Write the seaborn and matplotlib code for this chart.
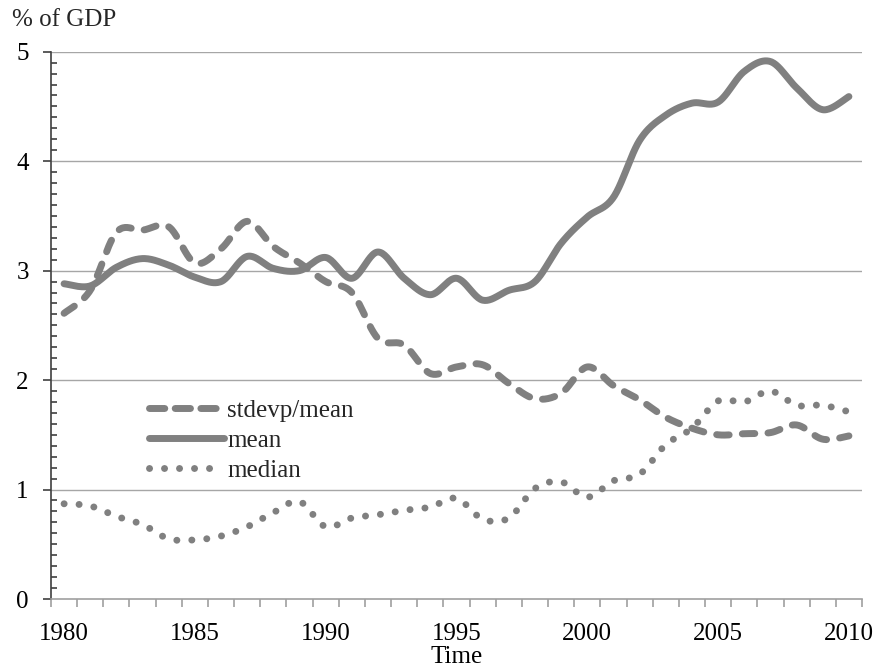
import numpy as np
import pandas as pd
import matplotlib
matplotlib.use("Agg")
import matplotlib.pyplot as plt
import seaborn as sns
from matplotlib.ticker import MultipleLocator, FixedLocator
from matplotlib.lines import Line2D

years = list(range(1980, 2011))
stdevp_mean = [2.61, 2.82, 3.35, 3.37, 3.40, 3.07, 3.20, 3.45, 3.22, 3.07,
               2.90, 2.80, 2.38, 2.32, 2.06, 2.12, 2.14, 1.97, 1.83, 1.88,
               2.12, 1.95, 1.82, 1.66, 1.56, 1.50, 1.51, 1.52, 1.59, 1.46, 1.49]
mean = [2.88, 2.86, 3.03, 3.11, 3.05, 2.94, 2.90, 3.13, 3.02, 3.00,
        3.12, 2.93, 3.17, 2.93, 2.78, 2.93, 2.73, 2.82, 2.90, 3.25,
        3.49, 3.67, 4.19, 4.42, 4.53, 4.54, 4.82, 4.91, 4.67, 4.47, 4.59]
median = [0.87, 0.85, 0.755, 0.68, 0.55, 0.54, 0.575, 0.66, 0.79, 0.89,
          0.66, 0.74, 0.77, 0.81, 0.84, 0.92, 0.73, 0.74, 1.01, 1.07,
          0.93, 1.08, 1.14, 1.41, 1.56, 1.81, 1.80, 1.90, 1.77, 1.77, 1.71]
series_names = ["stdevp/mean", "mean", "median"]
ytick_labels = ["0", "1", "2", "3", "4", "5"]
xtick_years = [1980, 1985, 1990, 1995, 2000, 2005, 2010]


def smooth(xs, ys, n=24):
    """Excel-style smoothed line (Catmull-Rom Bezier) for drawing."""
    P = np.column_stack([xs, ys]).astype(float)
    Pe = np.vstack([P[0], P, P[-1]])
    out = []
    for i in range(len(P) - 1):
        p0, p1, p2, p3 = Pe[i], Pe[i + 1], Pe[i + 2], Pe[i + 3]
        c1 = p1 + (p2 - p0) / 6.0
        c2 = p2 - (p3 - p1) / 6.0
        t = np.linspace(0, 1, n, endpoint=(i == len(P) - 2))[:, None]
        b = ((1 - t) ** 3) * p1 + 3 * ((1 - t) ** 2) * t * c1 + 3 * (1 - t) * t ** 2 * c2 + t ** 3 * p2
        out.append(b)
    B = np.vstack(out)
    return B[:, 0], B[:, 1]


sns.set_theme(style="white")
plt.rcParams["font.family"] = ["Liberation Serif", "DejaVu Serif"]

fig = plt.figure(figsize=(8.79, 6.71), dpi=100)
ax = fig.add_axes([51 / 879, 1 - 599 / 671, (862 - 51) / 879, (599 - 51.7) / 671])

gray = "#808080"
styles = {
    "stdevp/mean": dict(lw=5.0, dashes=(1.8, 1.9), hdashes=(2.2, 1.5)),
    "mean": dict(lw=5.0, dashes=None, hdashes=None),
    "median": dict(lw=5.0, dashes=(0.01, 2.15), hdashes=(0.01, 2.15)),
}
data = {"stdevp/mean": stdevp_mean, "mean": mean, "median": median}

handles = []
for name in series_names:
    sx, sy = smooth(years, data[name])
    df = pd.DataFrame({"Time": sx, "val": sy})
    sns.lineplot(data=df, x="Time", y="val", ax=ax, color=gray,
                 linewidth=styles[name]["lw"], estimator=None, sort=False)
    line = ax.get_lines()[-1]
    line.set_solid_capstyle("round")
    line.set_dash_capstyle("round")
    line.set_solid_joinstyle("round")
    if styles[name]["dashes"] is not None:
        line.set_dashes(styles[name]["dashes"])
    h = Line2D([], [], color=gray, lw=styles[name]["lw"],
               solid_capstyle="round", dash_capstyle="round")
    if styles[name]["hdashes"] is not None:
        h.set_dashes(styles[name]["hdashes"])
    handles.append(h)

ax.set_xlim(1979.5, 2010.5)
ax.set_ylim(0, 5)

# grid
for v in range(1, 6):
    ax.axhline(v, color="#A6A6A6", lw=1.0, zorder=0)

# spines
for s in ["top", "right"]:
    ax.spines[s].set_visible(False)
ax.spines["left"].set_color("#404040")
ax.spines["left"].set_linewidth(1.2)
ax.spines["bottom"].set_color("#A0A0A0")
ax.spines["bottom"].set_linewidth(1.2)

# y ticks
ax.yaxis.set_major_locator(FixedLocator(range(6)))
ax.set_yticklabels(ytick_labels)
ax.yaxis.set_minor_locator(MultipleLocator(0.1))
ax.tick_params(axis="y", which="major", direction="out", length=6, width=1.2,
               color="#404040", pad=10, labelsize=18, labelcolor="black", left=True)
ax.tick_params(axis="y", which="minor", direction="in", length=4.5, width=1.2,
               color="#404040", left=True)

# x ticks: labels at category centers, marks at category boundaries
ax.xaxis.set_major_locator(FixedLocator(xtick_years))
ax.set_xticklabels([str(y) for y in xtick_years])
ax.xaxis.set_minor_locator(FixedLocator(np.arange(1979.5, 2011.0, 1.0)))
ax.tick_params(axis="x", which="major", length=0, pad=17, labelsize=18,
               labelcolor="black", bottom=True)
ax.tick_params(axis="x", which="minor", direction="out", length=6, width=1.2,
               color="#A0A0A0", bottom=True)

ax.set_ylabel("")
ax.set_xlabel("Time", fontsize=18, labelpad=1, color="black")

fig.text(12 / 879, 1 - 9 / 671, "% of GDP", fontsize=18, ha="left", va="top")

leg = ax.legend(handles, series_names, loc="upper left",
                bbox_to_anchor=((132 - 51) / 811, (599 - 382) / 547.3),
                frameon=False, fontsize=18, handlelength=3.0,
                handletextpad=0.1, labelspacing=0.3, borderpad=0.2)

fig.savefig("out.png", dpi=100)
